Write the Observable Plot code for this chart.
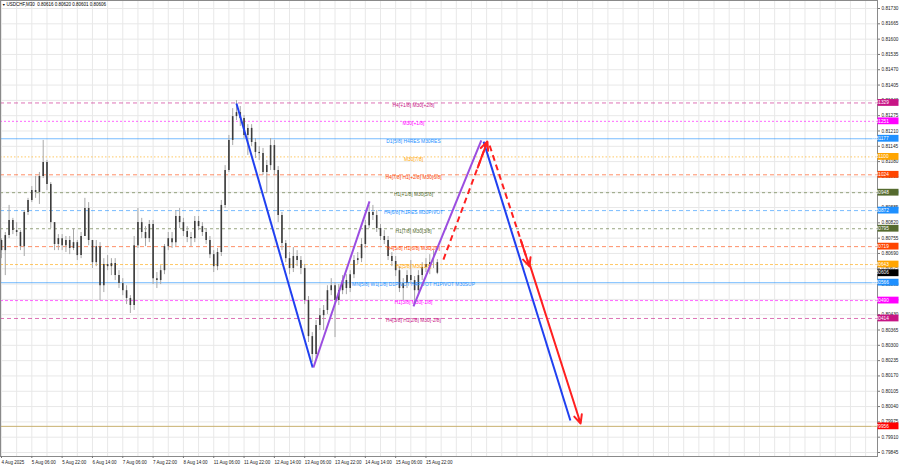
<!DOCTYPE html>
<html><head><meta charset="utf-8">
<script src="https://cdn.jsdelivr.net/npm/d3@7"></script>
<script src="https://cdn.jsdelivr.net/npm/@observablehq/plot@0.6"></script>
<style>html,body{margin:0;padding:0;background:#fff;} #chart{width:900px;height:468px;overflow:hidden}</style>
</head><body><div id="chart"></div>
<script>
// ---------- DATA ----------
const symbolTitle = "USDCHF,M30  0.80616 0.80620 0.80601 0.80606";
// H2-aggregated candles (index 0..115), open of first candle
const firstOpen = 0.80745;
const close = [0.80702,0.80766,0.80830,0.80787,0.80779,0.80719,0.80864,0.80915,0.80957,0.80949,
0.81017,0.81076,0.80983,0.80821,0.80728,0.80753,0.80723,0.80745,0.80711,0.80736,
0.80681,0.80762,0.80881,0.80745,0.80651,0.80719,0.80553,0.80643,0.80634,0.80647,
0.80596,0.80562,0.80532,0.80499,0.80469,0.80723,0.80821,0.80779,0.80753,0.80813,
0.80583,0.80575,0.80617,0.80719,0.80753,0.80736,0.80847,0.80821,0.80783,0.80758,
0.80753,0.80826,0.80804,0.80779,0.80745,0.80685,0.80634,0.80694,0.80894,0.81042,
0.81170,0.81271,0.81288,0.81263,0.81191,0.81221,0.81161,0.81119,0.81114,0.81034,
0.81063,0.81148,0.81042,0.80851,0.80732,0.80668,0.80626,0.80677,0.80660,0.80626,
0.80490,0.80337,0.80261,0.80384,0.80426,0.80448,0.80532,0.80553,0.80490,0.80532,
0.80575,0.80541,0.80600,0.80660,0.80668,0.80728,0.80808,0.80864,0.80851,0.80796,
0.80762,0.80745,0.80677,0.80656,0.80617,0.80541,0.80562,0.80596,0.80575,0.80532,
0.80596,0.80630,0.80643,0.80651,0.80651,0.80606];
const high = [0.80753,0.80779,0.80894,0.80839,0.80821,0.80787,0.80872,0.80924,0.80974,0.81017,
0.81034,0.81170,0.81085,0.80991,0.80808,0.80770,0.80770,0.80762,0.80762,0.80796,
0.80745,0.80779,0.80924,0.80906,0.80723,0.80745,0.80736,0.80668,0.80681,0.80668,
0.80668,0.80617,0.80583,0.80553,0.80511,0.80762,0.80881,0.80839,0.80804,0.80830,
0.80830,0.80609,0.80638,0.80728,0.80779,0.80779,0.80872,0.80881,0.80839,0.80804,
0.80779,0.80847,0.80847,0.80821,0.80796,0.80762,0.80702,0.80711,0.80915,0.81063,
0.81191,0.81305,0.81339,0.81314,0.81276,0.81237,0.81237,0.81178,0.81144,0.81136,
0.81085,0.81178,0.81170,0.81059,0.80864,0.80745,0.80694,0.80715,0.80702,0.80677,
0.80643,0.80507,0.80354,0.80405,0.80456,0.80469,0.80553,0.80583,0.80566,0.80558,
0.80596,0.80600,0.80617,0.80681,0.80694,0.80753,0.80830,0.80894,0.80894,0.80872,
0.80813,0.80787,0.80762,0.80694,0.80677,0.80634,0.80583,0.80617,0.80660,0.80592,
0.80617,0.80651,0.80668,0.80685,0.80702,0.80664];
const low = [0.80668,0.80596,0.80753,0.80770,0.80762,0.80702,0.80677,0.80851,0.80906,0.80924,
0.80898,0.81008,0.80957,0.80796,0.80702,0.80702,0.80702,0.80694,0.80685,0.80702,
0.80660,0.80668,0.80787,0.80723,0.80626,0.80634,0.80490,0.80524,0.80617,0.80596,
0.80575,0.80541,0.80511,0.80473,0.80435,0.80448,0.80711,0.80753,0.80719,0.80736,
0.80558,0.80541,0.80558,0.80600,0.80702,0.80711,0.80719,0.80796,0.80762,0.80736,
0.80719,0.80736,0.80787,0.80762,0.80728,0.80668,0.80609,0.80617,0.80677,0.80881,
0.81034,0.81148,0.81254,0.81229,0.81178,0.81106,0.81144,0.81093,0.81085,0.81021,
0.80949,0.81042,0.81021,0.80821,0.80702,0.80651,0.80600,0.80609,0.80634,0.80600,
0.80473,0.80312,0.80227,0.80235,0.80363,0.80363,0.80431,0.80511,0.80333,0.80469,
0.80515,0.80515,0.80524,0.80583,0.80643,0.80651,0.80711,0.80796,0.80830,0.80779,
0.80745,0.80728,0.80660,0.80634,0.80592,0.80524,0.80490,0.80541,0.80558,0.80473,
0.80515,0.80575,0.80609,0.80600,0.80626,0.80600];

const dateTickIdx = [0,8,16,24,32,40,48,56,64,72,80,88,96,104,112];
const dateTickLabels = ["4 Aug 2025","5 Aug 06:00","5 Aug 22:00","6 Aug 14:00","7 Aug 06:00","7 Aug 22:00","8 Aug 14:00","11 Aug 06:00","11 Aug 22:00","12 Aug 14:00","13 Aug 06:00","13 Aug 22:00","14 Aug 14:00","15 Aug 06:00","15 Aug 22:00"];
const gridIdx = d3.range(0, 232, 4);

const priceTicks = [0.81730,0.81665,0.81600,0.81535,0.81470,0.81405,0.81340,0.81275,0.81210,0.81145,0.81080,0.81015,0.80950,0.80885,0.80820,0.80755,0.80690,0.80625,0.80560,0.80495,0.80430,0.80365,0.80300,0.80235,0.80170,0.80105,0.80040,0.79975,0.79910,0.79845];

const levelPrices = [0.81329,0.81251,0.81177,0.81100,0.81024,0.80948,0.80872,0.80795,0.80719,0.80643,0.80566,0.80490,0.80414];
const levelTexts = ["H4[+1/8] M30[+2/8]","M30[+1/8]","D1[5/8] H4RES M30RES","M30[7/8]","H4[7/8] H1[+2/8] M30[6/8]","H1[+1/8] M30[5/8]","H4[6/8] H1RES M30PIVOT","H1[7/8] M30[3/8]","H4[5/8] H1[6/8] M30[2/8]","H1[5/8] M30[1/8]","MN[5/8] W1[1/8] D1PIVOT H4PIVOT H1PIVOT M30SUP","H1[3/8] M30[-1/8]","H4[3/8] H1[2/8] M30[-2/8]"];
const levelColors = ["#c71585","#ff00ff","#1e90ff","#ffa500","#ff4500","#556b2f","#1e90ff","#556b2f","#ff4500","#ffa500","#1e90ff","#ff00ff","#c71585"];
const levelDash = ["4,3","2,2",null,"1.5,2","4,3","3,3","4,3","3,3","4,3","3,2",null,"3,2","4,3"];
const labelIdx = 108.7;

const lastPrice = 0.80606;
const targetPrice = 0.79956;

// wave forecast segments: [index1, price1, index2, price2]
const waveBlue = [[62.0,0.81327,82.1,0.80206],[127.2,0.81165,150.1,0.79981]];
const wavePurple = [[82.3,0.80206,97.1,0.80911],[108.7,0.80465,126.6,0.81170]];
const waveRedDashed = [[116.6,0.80664,128.2,0.81165],[128.8,0.81148,139.3,0.80635]];
const waveRedSolid = [[139.3,0.80647,152.8,0.79968]];

// ---------- BUILD ----------
const candles = close.map((c, i) => {
  const o = i === 0 ? firstOpen : close[i - 1];
  return {i, open: o, close: c, high: Math.max(high[i], o, c), low: Math.min(low[i], o, c)};
});
const seg = a => a.map(([x1, y1, x2, y2]) => ({x1, y1, x2, y2}));
const heads = a => a.map(([x1, y1, x2, y2]) => ({x1: x2 - 0.22 * (x2 - x1), y1: y2 - 0.22 * (y2 - y1), x2, y2}));

const step = 3.79;
const font = "'Liberation Sans', Arial, sans-serif";

const levelMarks = [];
levelPrices.forEach((p, k) => {
  levelMarks.push(Plot.ruleY([p], {stroke: levelColors[k], strokeOpacity: 0.6, strokeWidth: 1, strokeDasharray: levelDash[k] || undefined}));
});
const labelMarks = levelPrices.map((p, k) =>
  Plot.text([p], {x: () => labelIdx, y: d => d, text: () => levelTexts[k], fill: levelColors[k], fontSize: 4.9, lineAnchor: "top", textAnchor: "middle", dy: 0.3})
);

const plot = Plot.plot({
  width: 900, height: 468,
  marginLeft: 0, marginRight: 23, marginTop: 0, marginBottom: 12,
  style: {fontFamily: font, background: "#fff", overflow: "visible"},
  x: {type: "linear", domain: [-1 / step, 876 / step], axis: null},
  y: {domain: [0.79828, 0.81764], axis: null},
  marks: [
    Plot.ruleY(priceTicks, {stroke: "#e8e8e8"}),
    Plot.ruleX(gridIdx, {stroke: "#e8e8e8"}),
    ...levelMarks,
    Plot.ruleY([targetPrice], {stroke: "#c8b070", strokeWidth: 1}),
    Plot.ruleX(candles, {x: "i", y1: "low", y2: "high", stroke: "#a8a8a8", strokeWidth: 1}),
    Plot.ruleX(candles, {x: "i", y1: "open", y2: "close", stroke: "#3c3c3c", strokeWidth: 1.6}),
    ...labelMarks,
    Plot.link(seg(waveBlue), {x1: "x1", y1: "y1", x2: "x2", y2: "y2", stroke: "#2040f0", strokeWidth: 2}),
    Plot.link(seg(wavePurple), {x1: "x1", y1: "y1", x2: "x2", y2: "y2", stroke: "#9b4de0", strokeWidth: 2}),
    Plot.link(seg(waveRedDashed), {x1: "x1", y1: "y1", x2: "x2", y2: "y2", stroke: "#ff2020", strokeWidth: 2, strokeDasharray: "6,4"}),
    Plot.arrow(heads(waveRedDashed), {x1: "x1", y1: "y1", x2: "x2", y2: "y2", stroke: "#ff2020", strokeWidth: 2, headLength: 7, headAngle: 50}),
    Plot.arrow(seg(waveRedSolid), {x1: "x1", y1: "y1", x2: "x2", y2: "y2", stroke: "#ff2020", strokeWidth: 2, headLength: 7, headAngle: 50}),
    Plot.frame({stroke: "#8a8a8a"}),
    Plot.axisY(priceTicks, {anchor: "right", tickFormat: d => d.toFixed(5), fontSize: 4.7, tickSize: 2, tickPadding: 2, stroke: "#777", fill: "#222"}),
    Plot.axisX(dateTickIdx, {anchor: "bottom", tickFormat: d => dateTickLabels[dateTickIdx.indexOf(d)], textAnchor: "start", fontSize: 4.5, tickSize: 2, tickPadding: 2.5, stroke: "#777", fill: "#222"}),
    Plot.text(["▼"], {frameAnchor: "top-left", dx: 1.5, dy: 2.5, fontSize: 3.6, lineAnchor: "top", fill: "#000"}),
    Plot.text([symbolTitle], {frameAnchor: "top-left", dx: 6, dy: 2.3, fontSize: 4.5, lineAnchor: "top", textAnchor: "start", fill: "#000"})
  ]
});

// price boxes on the right axis, positioned with the plot's own y scale
const yS = plot.scale("y");
const boxes = levelPrices.map((p, k) => ({p, c: levelColors[k]}))
  .concat([{p: lastPrice, c: "#000000"}, {p: targetPrice, c: "#ff0000"}]);
const gBox = d3.select(plot).append("g").attr("font-family", font);
boxes.forEach(b => {
  const yy = yS.apply(b.p);
  gBox.append("rect").attr("x", 877.5).attr("y", yy - 3.4).attr("width", 21).attr("height", 6.8).attr("fill", b.c);
  gBox.append("text").attr("x", 880.3).attr("y", yy).attr("dy", "0.36em").attr("fill", "#fff").attr("font-size", 4.7).text(b.p.toFixed(5));
});

document.getElementById("chart").appendChild(plot);
</script>
</body></html>
